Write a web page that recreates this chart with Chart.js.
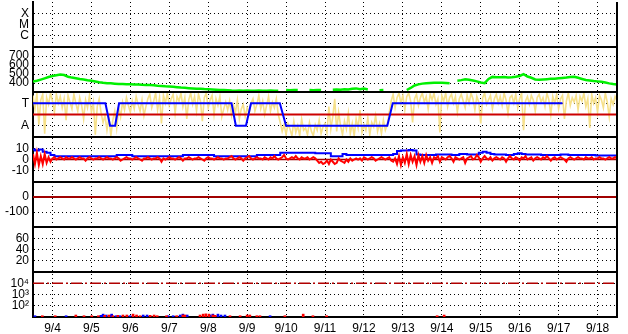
<!DOCTYPE html>
<html><head><meta charset="utf-8">
<script src="https://cdn.jsdelivr.net/npm/chart.js@4/dist/chart.umd.min.js"></script>
<style>html,body{margin:0;padding:0;background:#fff;overflow:hidden}#wrap{width:628px;height:334px;position:relative}</style>
</head><body><div id="wrap"><canvas id="c" width="628" height="334"></canvas></div>
<script>
// ---- categories / tick labels ----
const dayLabels = ['9/4','9/5','9/6','9/7','9/8','9/9','9/10','9/11','9/12','9/13','9/14','9/15','9/16','9/17','9/18'];
const stateTickVals = [1, 2, 3];
const stateTickLabels = ['C', 'M', 'X'];
const modeTickVals = [0, 2];
const modeTickLabels = ['A', 'T'];
const p2Ticks = [400, 500, 600, 700];
const p4Ticks = [-10, 0, 10];
const p5Ticks = [-100, 0];
const p6Ticks = [20, 40, 60];
const p7Ticks = [100, 1000, 10000];
const p7TickLabels = ['10\u00B2', '10\u00B3', '10\u2074'];

// ---- series (time in days since 9/4 00:00) ----
const greenStep = 0.1;
const greenVals = [
 415,425,438,452,466,478,486,493,488,470,460,
 452,444,438,430,424,417,408,402,398,396,
 393,390,388,386,385,383,382,380,379,378,
 374,370,367,363,360,357,353,349,346,343,
 340,337,335,332,330,328,326,323,322,320,
 316,315,317,314,316,315,313,316,314,315,
 316,314,315,null,322,320,323,321,null,null,
 322,320,323,321,null,null,326,328,325,330,
 327,335,340,330,338,328,null,null,320,322,
 null,null,null,null,null,322,345,372,385,393,
 397,400,402,404,403,400,397,null,426,432,
 441,436,428,418,405,398,445,468,465,463,
 466,462,465,470,478,498,472,458,440,436,
 440,443,446,448,452,456,460,466,470,458,
 445,433,428,422,418,414,405,396,388,382
];

const modeTimes = [0, 1.86, 1.98, 2.11, 2.21, 5.10, 5.21, 5.47, 5.60, 6.34, 6.50, 9.10, 9.24, 13.6];
const modeVals  = [2, 2, 0, 0, 2, 2, 0, 0, 2, 2, 0, 0, 2, 2];
const refTimes = [0, 15];
const midVals = [1, 1];
const zeroVals = [0, 0];
const limitVals = [10000, 10000];

const yellowStep = 0.05;
const yellowVals = [
 2.7,1.5,2.9,0.1,2.3,2.8,-0.7,2.5,1.9,2.9,2.2,1.2,2.8,2.0,2.6,1.6,2.4,0.5,2.7,2.1,
 1.5,2.8,2.0,1.3,2.5,1.8,0.6,2.3,1.6,2.7,1.2,2.1,-0.8,1.7,2.4,1.1,0.3,0.9,-0.4,0.7,
 -0.9,0.5,1.3,-0.2,1.6,0.8,2.1,1.4,2.5,1.8,1.2,2.2,1.5,2.6,1.9,1.3,2.3,0.9,1.7,2.4,
 2.8,1.6,2.2,2.9,1.4,2.5,0.2,2.7,2.0,2.9,1.8,2.4,2.8,1.1,2.6,2.2,2.9,1.7,2.5,0.6,
 2.3,2.9,1.9,2.6,1.3,2.8,2.2,0.4,2.5,2.9,1.6,2.3,2.7,1.0,2.4,1.8,2.6,0.8,1.5,2.1,
 1.4,2.2,0.9,1.8,1.2,2.3,0.6,1.5,1.9,0.8,1.6,1.1,2.0,2.4,1.3,1.9,2.7,1.5,2.2,1.0,
 1.8,2.6,1.3,2.1,1.6,2.4,1.0,0.3,-0.5,0.1,-0.8,0.2,-0.3,-0.9,0.4,-0.6,0.0,-0.9,0.6,-0.4,
 -0.2,-0.8,0.3,-0.5,-0.9,0.1,-0.4,0.5,-0.7,-0.1,0.2,-0.6,1.7,-0.3,0.8,2.4,-0.5,1.2,0.0,-0.8,
 0.4,-0.3,1.1,-0.7,0.2,-0.9,0.6,-0.2,1.4,-0.6,0.1,-0.4,0.7,-0.8,0.3,-0.1,0.9,-0.5,0.2,-0.7,
 0.5,-0.4,0.1,1.2,2.2,2.8,1.6,2.5,2.9,2.0,2.7,1.4,2.6,2.9,2.2,0.3,2.4,2.8,1.8,2.5,
 2.9,2.1,2.6,1.5,2.8,2.3,2.9,1.9,2.4,-0.6,2.7,2.2,2.9,1.7,2.5,2.8,2.0,2.6,1.2,2.4,
 2.8,2.2,1.6,2.7,2.0,2.9,2.4,1.4,2.6,2.1,0.2,2.5,2.9,1.9,2.3,2.7,1.5,2.4,2.8,2.0,
 2.6,1.8,2.9,2.3,1.1,2.5,2.7,2.0,2.8,1.6,2.4,2.9,-0.4,2.2,2.6,1.9,2.7,2.3,1.3,2.5,
 2.8,2.1,2.5,1.7,2.9,2.3,1.0,2.6,2.0,2.8,1.5,2.4,2.7,0.6,2.2,2.9,1.8,2.5,2.1,2.7,
 1.4,2.6,2.2,2.9,1.7,2.4,-0.2,2.8,2.0,2.5,1.2,2.7,2.3,1.6,2.9,2.1,0.8,2.4,1.9,2.6,
 2.2
];

const blue4Step = 0.1;
const blue4Vals = [
 9,8,9,7,6,
 4,3,3,3,3,3,3,3,3,3,3,3,3,3,3,
 3,3,4,4,4,4,3,3,3,3,
 3,3,3,3,3,3,3,3,3,4,
 4,4,4,4,4,4,4,3,3,3,
 3,3,3,3,3,3,3,3,4,4,
 4,4,4,4,6,6,6,6,6,6,
 6,6,6,5.5,5.5,5.5,5.5,3,3,3,
 5,4,4,4,4,4,4,4,4,4,
 4,4,4,5,7.5,8,8,8.5,8,4.5,
 4,4,4,4,4.5,4.5,4.5,4.5,4,4,
 5,5,4.5,4.5,4.5,6,7,6,5,4.5,
 4.5,4.5,4,4,5,5.5,5,4.5,4.5,4.5,
 4.5,4,4,4,4,4,4.5,4.5,4,4,
 4,4,4,4,4,3.5,3.5,3.5,3.5,3.5,3.5
];

const red4Step = 0.05;
const red4Vals = [
 5,-4,6,-5,3,-4,5,-3,2,-2,1,2,0,1,2,1,0,2,1,1,
 2,1,0,1,2,1,1,-1,1,2,1,0,1,1,2,1,0,1,2,1,
 1,0,1,2,1,-1,0,1,2,1,1,0,1,2,1,0,-1,1,1,2,
 1,0,1,1,2,1,-2,1,0,1,2,1,1,0,1,2,1,-1,1,1,
 2,1,0,1,1,2,1,0,-1,1,2,1,1,0,1,2,1,1,0,1,
 1,2,3,1,0,1,2,1,-1,1,2,3,1,0,1,2,1,1,0,2,
 1,0,2,1,3,1,0,1,2,4,1,0,1,2,1,3,1,0,2,1,
 1,2,0,1,2,1,-1,-3,-2,-4,-3,-1,-4,0,-2,-4,-3,1,-1,-2,
 -3,0,-2,1,-1,0,1,0,1,-1,2,1,0,1,2,1,-1,0,1,2,
 1,0,1,2,-1,-2,1,-4,3,-5,2,-3,5,-4,4,-2,3,-5,4,-2,
 3,-3,4,-1,2,-3,2,1,3,-2,2,1,0,2,3,1,-2,2,1,0,
 1,2,-3,1,2,3,0,1,4,2,-2,1,3,1,0,2,-1,1,2,1,
 0,2,1,-2,1,3,1,0,2,1,-1,2,1,3,0,1,2,-1,1,2,
 1,0,2,1,3,1,-1,1,2,0,1,2,1,0,-2,1,2,1,0,1,
 2,1,1,0,2,1,1,2,0,1,1,2,1,1,0,1,2,1,1,2,
 1
];

const redBarTimes = [0.24,0.57,1.10,1.31,1.51,1.68,1.84,1.95,2.05,2.18,2.31,2.41,2.57,2.66,2.75,3.01,3.11,3.19,3.43,3.69,3.85,3.90,4.29,4.37,4.44,4.52,4.62,4.68,5.06,5.32,5.50,5.57,5.75,5.83,6.47,6.94,7.19,7.54,10.38,10.56];
const redBarVals  = [13,13,15,13,13,13,14,15,13,14,15,15,18,15,13,14,15,13,13,13,15,15,15,18,19,18,15,14,13,13,15,15,13,13,13,18,13,13,13,15];
const blueBarTimes = [0.05,0.85,1.74,1.80,1.88,1.98,2.02,2.13,2.23,2.49,2.83,2.93,3.47,3.60,3.78,3.85,3.96,4.55,4.62,4.75,4.83,4.93,6.09];
const blueBarVals  = [13,13,14,18,15,14,18,13,13,13,15,15,13,13,15,18,15,15,18,18,15,15,13];

// ---- build point tables ----
const regular = (vals, step) => vals.map((v, i) => ({x: +(i * step).toFixed(3), y: v}));
const paired = (ts, vs) => ts.map((t, i) => ({x: t, y: vs[i]}));

Chart.defaults.font.family = "'Liberation Sans', Arial, sans-serif";
Chart.defaults.font.size = 12;
Chart.defaults.color = '#000';

const panelIds = ['p7', 'p6', 'p5', 'p4', 'p3', 'p2', 'p1']; // bottom -> top

function yAxis(opts, tickVals, labelFn) {
  return Object.assign({
    type: 'linear', position: 'left', stack: 'panels', stackWeight: 1, offset: false,
    grid: {color: '#000', lineWidth: 1, drawTicks: false},
    border: {display: true, color: '#000', width: 2, dash: [1, 3]},
    ticks: {padding: 4, autoSkip: false, callback: labelFn},
    afterBuildTicks: s => { s.ticks = tickVals.map(v => ({value: v})); },
    afterFit: s => { s.width = 33; s.paddingTop = 0; s.paddingBottom = 0; }
  }, opts);
}

const panelFrame = {
  id: 'panelFrame',
  afterDraw(chart) {
    const {ctx, chartArea} = chart;
    ctx.save();
    ctx.strokeStyle = '#000';
    ctx.lineWidth = 2;
    ctx.beginPath();
    panelIds.forEach(id => {
      const s = chart.scales[id];
      if (s.top > chartArea.top + 2) {
        const y = Math.round(s.top);
        ctx.moveTo(chartArea.left, y);
        ctx.lineTo(chartArea.right, y);
      }
    });
    const xr = Math.round(chartArea.right);
    ctx.moveTo(xr, chartArea.top);
    ctx.lineTo(xr, chartArea.bottom);
    ctx.stroke();
    ctx.restore();
  }
};

const lineDs = (data, axis, color, width, order, extra) => Object.assign({
  type: 'line', data, yAxisID: axis, borderColor: color, backgroundColor: color,
  borderWidth: width, pointRadius: 0, tension: 0, fill: false, spanGaps: false, order
}, extra || {});

new Chart(document.getElementById('c'), {
  type: 'line',
  data: {
    datasets: [
      lineDs(regular(greenVals, greenStep), 'p2', '#00f000', 2.5, 1),
      lineDs(paired(modeTimes, modeVals), 'p3', '#0000ff', 2, 1),
      lineDs(paired(refTimes, midVals), 'p3', '#cc0000', 2, 2),
      lineDs(regular(yellowVals, yellowStep), 'p3', '#f6e08a', 1.6, 6),
      lineDs(regular(red4Vals, red4Step), 'p4', '#ff0000', 2, 1),
      lineDs(regular(blue4Vals, blue4Step), 'p4', '#0000ff', 2, 2, {stepped: 'middle'}),
      lineDs(paired(refTimes, zeroVals), 'p4', '#a00000', 1.5, 3),
      lineDs(paired(refTimes, zeroVals), 'p5', '#a00000', 2, 1),
      lineDs(paired(refTimes, limitVals), 'p7', '#b00000', 1.5, 1, {borderDash: [11, 3, 2, 3]}),
      {type: 'bar', data: paired(redBarTimes, redBarVals), yAxisID: 'p7', backgroundColor: '#ff0000', barThickness: 2, grouped: false, order: 2},
      {type: 'bar', data: paired(blueBarTimes, blueBarVals), yAxisID: 'p7', backgroundColor: '#0000ff', barThickness: 2, grouped: false, order: 3}
    ]
  },
  options: {
    responsive: false, animation: false, devicePixelRatio: 1, events: [],
    layout: {padding: {top: 2, right: 11, left: 0, bottom: 0}},
    plugins: {legend: {display: false}, tooltip: {enabled: false}},
    scales: {
      x: {
        type: 'linear', min: 0, max: 15, offset: false,
        grid: {color: '#000', lineWidth: 1, drawTicks: false},
        border: {display: true, color: '#000', width: 2, dash: [1, 3]},
        ticks: {stepSize: 1, autoSkip: false, maxRotation: 0, padding: 4, labelOffset: 19.5,
                callback: v => dayLabels[Math.round(v)] || ''},
        afterFit: s => { s.height = 17; s.paddingLeft = 0; s.paddingRight = 0; }
      },
      p7: yAxis({type: 'logarithmic', min: 10, max: 100000}, p7Ticks, v => p7TickLabels[p7Ticks.indexOf(v)] || ''),
      p6: yAxis({min: 0, max: 80}, p6Ticks, v => String(v)),
      p5: yAxis({min: -200, max: 100}, p5Ticks, v => String(v)),
      p4: yAxis({min: -20, max: 20}, p4Ticks, v => String(v)),
      p3: yAxis({min: -1, max: 3}, modeTickVals, v => modeTickLabels[modeTickVals.indexOf(v)] || ''),
      p2: yAxis({min: 300, max: 800}, p2Ticks, v => String(v)),
      p1: yAxis({min: 0, max: 4}, stateTickVals, v => stateTickLabels[stateTickVals.indexOf(v)] || '')
    }
  },
  plugins: [panelFrame]
});
</script>
</body></html>
